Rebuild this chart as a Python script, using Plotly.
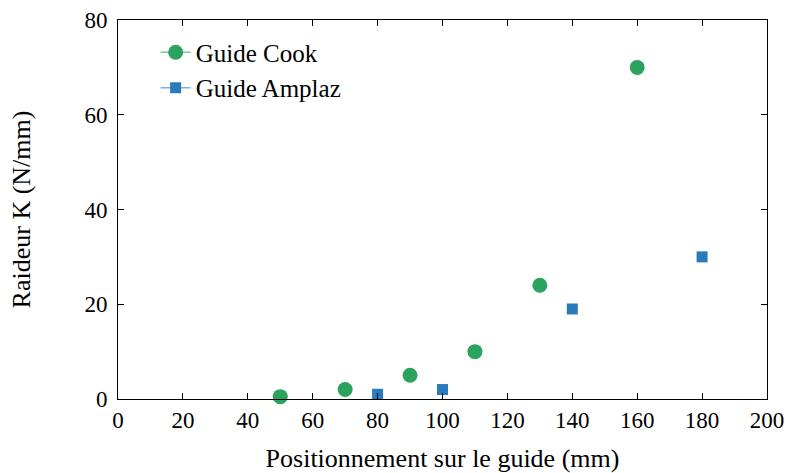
import plotly.graph_objects as go

cook_x = [50, 70, 90, 110, 130, 160]
cook_y = [0.5, 2, 5, 10, 24, 70]
amplaz_x = [80, 100, 140, 180]
amplaz_y = [1, 2, 19, 30]

x_ticks = [0, 20, 40, 60, 80, 100, 120, 140, 160, 180, 200]
y_ticks = [0, 20, 40, 60, 80]

green = "#2ca25f"
blue = "#2b7bba"
font = "Liberation Serif"

fig = go.Figure()
fig.add_trace(go.Scatter(x=cook_x, y=cook_y, mode="markers", showlegend=False,
                         cliponaxis=False,
                         marker=dict(symbol="circle", size=15, color=green)))
fig.add_trace(go.Scatter(x=amplaz_x, y=amplaz_y, mode="markers", showlegend=False,
                         cliponaxis=False,
                         marker=dict(symbol="square", size=11, color=blue)))
# legend entries
fig.add_trace(go.Scatter(x=[None], y=[None], mode="lines+markers", name="Guide Cook",
                         legendgroup="a",
                         line=dict(color="#74c898", width=1.5),
                         marker=dict(symbol="circle", size=15, color=green)))
fig.add_trace(go.Scatter(x=[None], y=[None], mode="lines+markers", name="Guide Amplaz",
                         legendgroup="b",
                         line=dict(color="#7fb3dd", width=1.5),
                         marker=dict(symbol="square", size=11, color=blue)))

axis_common = dict(showline=True, linecolor="black", linewidth=1, mirror="ticks",
                   ticks="inside", ticklen=6, tickcolor="black", showgrid=False,
                   zeroline=False, automargin=False,
                   tickfont=dict(family=font, size=23, color="black"))

fig.update_layout(
    width=785, height=473,
    margin=dict(l=118, r=18, t=20, b=74),
    paper_bgcolor="white", plot_bgcolor="white",
    font=dict(family=font, size=23, color="black"),
    xaxis=dict(range=[0, 200], tickvals=x_ticks,
               title=dict(text="Positionnement sur le guide (mm)", standoff=18,
                          font=dict(family=font, size=26)),
               **axis_common),
    yaxis=dict(range=[0, 80], tickvals=y_ticks, ticklabelstandoff=5,
               title=dict(text="Raideur K (N/mm)", standoff=46,
                          font=dict(family=font, size=26)),
               **axis_common),
    legend=dict(x=0.058, y=0.975, xanchor="left", yanchor="top",
                bgcolor="rgba(0,0,0,0)", font=dict(family=font, size=25),
                traceorder="grouped", tracegroupgap=0),
)

fig.write_html("out.html", config={"displayModeBar": False},
               post_script="document.body.style.margin='0';document.body.style.overflow='hidden';")
